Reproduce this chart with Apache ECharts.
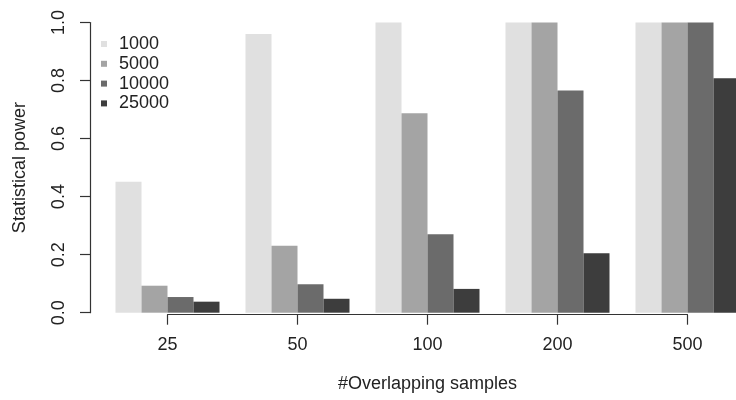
<!DOCTYPE html>
<html>
<head>
<meta charset="utf-8">
<script src="https://cdn.jsdelivr.net/npm/echarts@6/dist/echarts.min.js"></script>
<style>
  html, body { margin: 0; padding: 0; background: #ffffff; }
  #chart { width: 736px; height: 400px; }
</style>
</head>
<body>
<div id="chart"></div>
<script>
// Number of overlapping samples (groups along the x axis)
const categories = ['25', '50', '100', '200', '500'];
// Series: sample size settings
const seriesNames = ['1000', '5000', '10000', '25000'];
// Statistical power for each sample size, per group
const power1000  = [0.451, 0.960, 1.000, 1.000, 1.000];
const power5000  = [0.093, 0.231, 0.687, 1.000, 1.000];
const power10000 = [0.054, 0.098, 0.270, 0.766, 1.000];
const power25000 = [0.038, 0.048, 0.082, 0.205, 0.808];
// Y axis tick labels
const yTicks = [0, 0.2, 0.4, 0.6, 0.8, 1.0];

const values = [power1000, power5000, power10000, power25000];
const colors = ['#e0e0e0', '#a4a4a4', '#6b6b6b', '#3d3d3d'];
const font = '"Liberation Sans", Arial, Helvetica, sans-serif';
const ink = '#222222';
const axisInk = '#333333';

const chart = echarts.init(document.getElementById('chart'), null, { renderer: 'canvas' });

chart.setOption({
  animation: false,
  backgroundColor: '#ffffff',
  grid: {
    left: 167.5, right: 48.5, top: 22.5, bottom: 87.3,
    containLabel: false,
    outerBoundsMode: 'none'
  },
  legend: {
    orient: 'vertical',
    left: 101,
    top: 35,
    padding: 0,
    icon: 'rect',
    itemWidth: 6,
    itemHeight: 6,
    itemGap: 1.8,
    data: seriesNames,
    textStyle: { fontFamily: font, fontSize: 18, color: ink, padding: [0, 0, 0, 7] }
  },
  xAxis: {
    type: 'category',
    data: categories,
    boundaryGap: false,
    offset: 2,
    name: '#Overlapping samples',
    nameLocation: 'middle',
    nameGap: 60,
    nameTextStyle: { fontFamily: font, fontSize: 18, color: ink },
    axisLine: { show: true, onZero: false, lineStyle: { color: axisInk, width: 1.2 } },
    axisTick: { show: true, length: 10, lineStyle: { color: axisInk, width: 1.2 } },
    axisLabel: { fontFamily: font, fontSize: 18, color: ink, margin: 21 },
    splitLine: { show: false }
  },
  yAxis: {
    type: 'value',
    min: yTicks[0],
    max: yTicks[yTicks.length - 1],
    interval: 0.2,
    offset: 77.5,
    name: 'Statistical power',
    nameLocation: 'middle',
    nameGap: 61,
    nameTextStyle: { fontFamily: font, fontSize: 18, color: ink },
    axisLine: { show: true, onZero: false, lineStyle: { color: axisInk, width: 1.2 } },
    axisTick: { show: true, length: 10, lineStyle: { color: axisInk, width: 1.2 } },
    axisLabel: {
      fontFamily: font, fontSize: 18, color: ink, margin: 22, rotate: 90,
      formatter: v => v.toFixed(1)
    },
    splitLine: { show: false }
  },
  series: seriesNames.map((name, i) => ({
    name: name,
    type: 'bar',
    data: values[i],
    barWidth: 26,
    barGap: '0%',
    itemStyle: { color: colors[i] }
  }))
});
</script>
</body>
</html>
